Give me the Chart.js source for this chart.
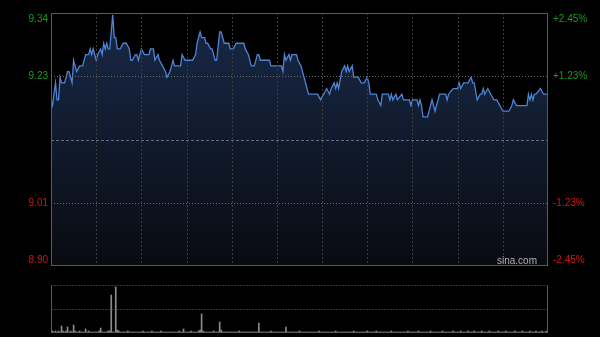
<!DOCTYPE html>
<html>
<head>
<meta charset="utf-8">
<script src="https://cdn.jsdelivr.net/npm/chart.js@4/dist/chart.umd.min.js"></script>
<style>
  html, body { margin: 0; padding: 0; background: #000; }
  #wrap { position: relative; width: 600px; height: 337px; background: #000; }
  #wrap canvas { position: absolute; left: 0; top: 0; }
</style>
</head>
<body>
<div id="wrap">
  <canvas id="priceChart" width="600" height="337"></canvas>
  <canvas id="volChart" width="600" height="337"></canvas>
</div>
<script>
// intraday (HK session, minutes from 9:30, lunch break removed)
var prevClose = 9.12;
var priceMin = 8.8966, priceMax = 9.3434;
var leftTicks = [9.3434, 9.232, 9.008, 8.8966];
var leftLabels = ["9.34", "9.23", "9.01", "8.90"];
var rightLabels = ["+2.45%", "+1.23%", "-1.23%", "-2.45%"];
var gridMinutes = [30, 60, 90, 120, 150, 180, 210, 240, 270, 300];

var minutes = [0, 1, 3, 4, 5, 6, 7, 9, 11, 12, 14, 15, 17, 19, 21, 23, 25, 26, 27, 28,
  30, 31, 33, 34, 35, 36, 37, 38, 39, 41, 42, 43, 44, 46, 48, 50, 52, 53, 54, 56,
  57, 58, 60, 62, 65, 66, 68, 69, 71, 72, 74, 76, 77, 79, 80, 81, 82, 86, 87, 89,
  94, 96, 97, 99, 100, 102, 103, 104, 106, 107, 109, 110, 112, 113, 115, 118, 119, 121, 123, 128,
  129, 131, 133, 135, 137, 138, 139, 145, 146, 153, 154, 155, 156, 158, 159, 160, 163, 164, 166, 167,
  168, 169, 170, 171, 177, 179, 181, 183, 185, 186, 188, 189, 190, 191, 193, 195, 196, 197, 198, 200,
  201, 204, 206, 208, 210, 211, 212, 216, 217, 219, 220, 224, 225, 226, 227, 229, 230, 233, 234, 238,
  239, 240, 243, 244, 245, 246, 247, 250, 252, 253, 255, 258, 262, 263, 264, 267, 270, 271, 272, 274,
  277, 279, 280, 281, 283, 285, 286, 287, 288, 290, 292, 294, 296, 298, 300, 304, 306, 307, 309, 316,
  317, 318, 319, 320, 321, 322, 325, 327, 330];
var prices = [9.19, 9.18, 9.22, 9.19, 9.19, 9.23, 9.22, 9.22, 9.24, 9.24, 9.22, 9.26, 9.24, 9.25, 9.25, 9.27, 9.27, 9.28, 9.27, 9.28,
  9.26, 9.27, 9.28, 9.27, 9.29, 9.28, 9.29, 9.28, 9.28, 9.34, 9.30, 9.30, 9.28, 9.28, 9.29, 9.29, 9.28, 9.26, 9.26, 9.27,
  9.27, 9.26, 9.28, 9.27, 9.27, 9.28, 9.28, 9.26, 9.27, 9.26, 9.25, 9.24, 9.23, 9.24, 9.25, 9.26, 9.25, 9.25, 9.27, 9.26,
  9.26, 9.27, 9.29, 9.31, 9.30, 9.30, 9.29, 9.29, 9.28, 9.28, 9.26, 9.26, 9.31, 9.31, 9.29, 9.29, 9.28, 9.28, 9.29, 9.29,
  9.28, 9.27, 9.25, 9.25, 9.27, 9.27, 9.26, 9.26, 9.25, 9.25, 9.24, 9.27, 9.26, 9.27, 9.26, 9.27, 9.27, 9.26, 9.25, 9.24,
  9.23, 9.22, 9.21, 9.20, 9.20, 9.19, 9.20, 9.21, 9.20, 9.21, 9.22, 9.21, 9.22, 9.21, 9.24, 9.25, 9.24, 9.25, 9.24, 9.25,
  9.23, 9.23, 9.22, 9.22, 9.23, 9.22, 9.20, 9.20, 9.19, 9.18, 9.20, 9.20, 9.19, 9.20, 9.19, 9.20, 9.19, 9.20, 9.19, 9.19,
  9.18, 9.19, 9.19, 9.18, 9.19, 9.18, 9.16, 9.16, 9.18, 9.19, 9.17, 9.20, 9.20, 9.19, 9.20, 9.21, 9.21, 9.22, 9.21, 9.22,
  9.22, 9.23, 9.22, 9.22, 9.19, 9.20, 9.20, 9.21, 9.20, 9.21, 9.20, 9.19, 9.19, 9.18, 9.17, 9.17, 9.18, 9.19, 9.18, 9.18,
  9.20, 9.19, 9.20, 9.19, 9.20, 9.20, 9.21, 9.20, 9.20];

// volume per minute (relative units, 0..48)
var volumes = [
  4,2,1,2,1,2,1,7,2,1,2,6,1,2,1,8,2,1,1,2,1,1,1,4,1,2,1,1,1,1,
  1,1,2,5,1,1,1,1,2,2,38,1,1,46,3,2,1,1,1,1,1,2,1,1,1,1,1,1,1,1,
  1,2,1,1,1,1,1,2,1,1,1,1,1,2,1,1,1,1,1,1,1,1,1,1,1,2,1,1,4,1,
  1,1,1,2,1,1,1,1,2,3,19,2,1,1,1,1,1,1,2,1,1,1,11,3,1,1,1,1,1,1,
  1,1,1,1,1,2,1,1,1,1,1,1,1,1,1,1,1,1,10,1,1,1,1,1,1,1,2,1,1,1,
  1,1,1,1,1,1,6,1,1,1,1,1,1,1,1,2,1,1,1,1,1,1,1,1,1,1,1,1,2,1,
  1,1,1,1,1,1,1,1,1,2,1,1,1,1,1,1,1,1,1,1,1,2,1,1,1,1,1,1,1,1,
  2,1,1,1,1,1,2,1,1,1,1,1,1,1,1,1,2,1,1,1,1,1,1,1,1,1,1,2,1,1,
  1,1,1,1,2,1,1,1,1,1,1,1,2,1,1,1,1,1,1,1,2,1,1,1,1,1,1,2,1,1,
  1,1,2,1,1,1,1,2,1,1,1,2,1,1,1,1,2,1,1,1,1,2,1,1,1,1,1,2,1,1,
  1,1,2,1,1,1,1,1,2,1,1,1,1,2,1,1,1,1,2,1,1,1,2,1,1,1,2,1,1,2,1];
var volLabels = volumes.map(function(v, i) { return i; });

var FONT = '10px "Liberation Sans", Arial, sans-serif';
var GREEN = '#1c9c1c', RED = '#d01414';

function dotted(ctx, x1, y1, x2, y2, color, dash) {
  ctx.save();
  ctx.strokeStyle = color;
  ctx.lineWidth = 1;
  ctx.setLineDash(dash);
  ctx.beginPath();
  ctx.moveTo(x1, y1);
  ctx.lineTo(x2, y2);
  ctx.stroke();
  ctx.restore();
}

var priceFrame = {
  id: 'priceFrame',
  afterDatasetsDraw: function(chart) {
    var ctx = chart.ctx, a = chart.chartArea;
    var xs = chart.scales.x, ys = chart.scales.y;
    gridMinutes.forEach(function(m) {
      var x = Math.round(xs.getPixelForValue(m)) + 0.5;
      dotted(ctx, x, a.top, x, a.bottom, '#3c3c3c', [2, 2]);
    });
    [leftTicks[1], leftTicks[2]].forEach(function(v) {
      var y = Math.round(ys.getPixelForValue(v)) + 0.5;
      dotted(ctx, a.left, y, a.right, y, '#6a6a6a', [1, 2]);
    });
    var yc = Math.round(ys.getPixelForValue(prevClose)) + 0.5;
    dotted(ctx, a.left, yc, a.right, yc, '#5f6f84', [3, 2]);

    ctx.save();
    ctx.strokeStyle = '#5a5a5a';
    ctx.lineWidth = 1;
    ctx.strokeRect(Math.round(a.left) + 0.5, Math.round(a.top) + 0.5,
      Math.round(a.right - a.left) - 1, Math.round(a.bottom - a.top) - 1);

    ctx.font = FONT;
    leftTicks.forEach(function(v, i) {
      var y = ys.getPixelForValue(v);
      if (i === 0) y += 6;
      if (i === leftTicks.length - 1) y -= 6;
      ctx.fillStyle = i < 2 ? GREEN : RED;
      ctx.textAlign = 'right';
      ctx.textBaseline = 'middle';
      ctx.fillText(leftLabels[i], a.left - 3, y);
      ctx.textAlign = 'left';
      ctx.fillText(rightLabels[i], a.right + 5, y);
    });
    ctx.fillStyle = '#b0b0b0';
    ctx.textAlign = 'right';
    ctx.fillText('sina.com', a.right - 11, a.bottom - 5);
    ctx.restore();
  }
};

var priceCtx = document.getElementById('priceChart').getContext('2d');
new Chart(priceCtx, {
  type: 'line',
  data: {
    datasets: [{
      data: minutes.map(function(m, i) { return { x: m, y: prices[i] }; }),
      borderColor: '#4d84d6',
      borderWidth: 1.3,
      pointRadius: 0,
      tension: 0,
      fill: 'start',
      backgroundColor: function(c) {
        var a = c.chart.chartArea;
        if (!a) return 'rgba(20,35,60,0.8)';
        var g = c.chart.ctx.createLinearGradient(0, a.top, 0, a.bottom);
        g.addColorStop(0, 'rgba(28,48,84,0.85)');
        g.addColorStop(1, 'rgba(10,12,18,0.9)');
        return g;
      }
    }]
  },
  options: {
    responsive: false,
    animation: false,
    devicePixelRatio: 1,
    layout: { padding: { left: 51, right: 52, top: 13, bottom: 71 } },
    scales: {
      x: { type: 'linear', min: 0, max: 330, display: false },
      y: { min: priceMin, max: priceMax, display: false }
    },
    plugins: { legend: { display: false }, tooltip: { enabled: false } }
  },
  plugins: [priceFrame]
});

var volFrame = {
  id: 'volFrame',
  afterDatasetsDraw: function(chart) {
    var ctx = chart.ctx, a = chart.chartArea, ys = chart.scales.y;
    var l = Math.round(a.left) + 0.5, r = Math.round(a.right) - 0.5;
    var t = Math.round(a.top) + 0.5, b = Math.round(a.bottom) - 0.5;
    dotted(ctx, l, t, r, t, '#6a6a6a', [1, 2]);
    var ym = Math.round(ys.getPixelForValue(24)) + 0.5;
    dotted(ctx, l, ym, r, ym, '#6a6a6a', [1, 2]);
    ctx.save();
    ctx.strokeStyle = '#5a5a5a';
    ctx.lineWidth = 1;
    ctx.beginPath();
    ctx.moveTo(l, t); ctx.lineTo(l, b); ctx.lineTo(r, b); ctx.lineTo(r, t);
    ctx.stroke();
    ctx.restore();
  }
};

var volCtx = document.getElementById('volChart').getContext('2d');
new Chart(volCtx, {
  type: 'bar',
  data: {
    labels: volLabels,
    datasets: [{
      data: volumes,
      backgroundColor: '#8c8c8c',
      barThickness: 1,
      borderWidth: 0,
      minBarLength: 1
    }]
  },
  options: {
    responsive: false,
    animation: false,
    devicePixelRatio: 1,
    layout: { padding: { left: 51, right: 52, top: 285, bottom: 4 } },
    scales: {
      x: { type: 'category', offset: false, display: false },
      y: { min: 0, max: 48, display: false }
    },
    plugins: { legend: { display: false }, tooltip: { enabled: false } }
  },
  plugins: [volFrame]
});
</script>
</body>
</html>
